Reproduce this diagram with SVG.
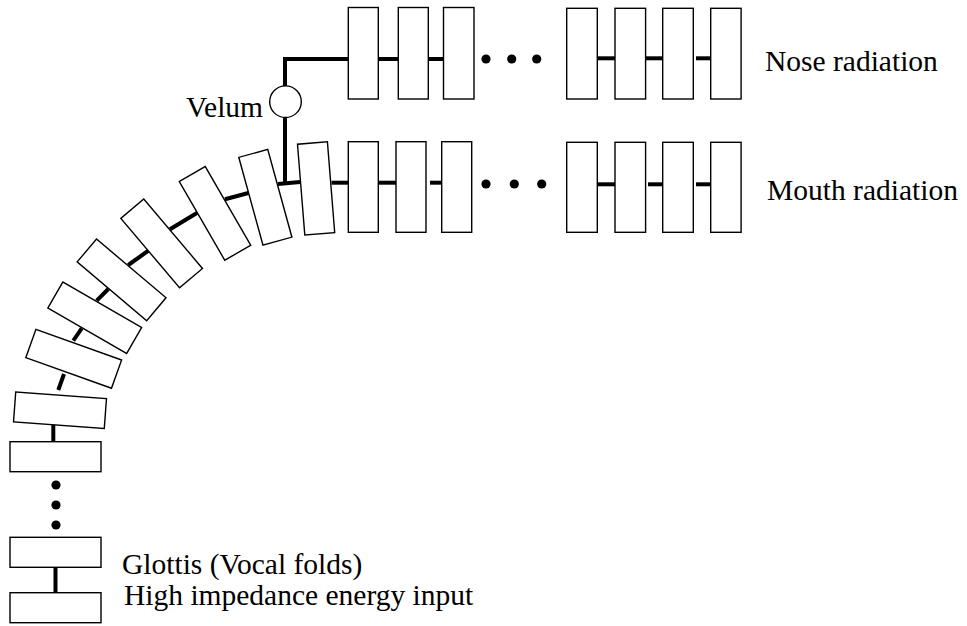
<svg xmlns="http://www.w3.org/2000/svg" width="967" height="626" viewBox="0 0 967 626">
  <style>
    .sec { fill: #fff; stroke: #000; stroke-width: 1.4; }
    .wire { stroke: #000; stroke-width: 4; fill: none; stroke-linecap: butt; }
    .dot { fill: #000; }
    .lbl { font-family: "Liberation Serif", "Times New Roman", serif; font-size: 29.5px; fill: #000; }
  </style>
  <defs>
    <!-- one tube section, centred on its origin -->
    <rect id="seg" x="-45.5" y="-15" width="91" height="30"/>
  </defs>
  <rect width="967" height="626" fill="#fff"/>

  <!-- connectors between tube sections -->
  <g id="connectors" class="wire">
    <!-- glottis stack -->
    <line x1="55.5" y1="567" x2="55.5" y2="593"/>
    <line x1="53.3" y1="422" x2="53.3" y2="442"/>
    <!-- bending pharynx chain -->
    <line x1="58.3" y1="390" x2="64" y2="374"/>
    <line x1="73.3" y1="340.7" x2="81.7" y2="328.3"/>
    <line x1="96.7" y1="300.7" x2="108.3" y2="289"/>
    <line x1="128.3" y1="265" x2="149.3" y2="250"/>
    <line x1="170" y1="229.3" x2="197.3" y2="212.7"/>
    <line x1="225" y1="199.3" x2="249.3" y2="192.7"/>
    <line x1="278" y1="184" x2="300" y2="182"/>
    <!-- velum branch to nasal tract -->
    <polyline points="285,184.3 285,117.5"/>
    <polyline points="285,86 285,59 348,59"/>
    <!-- nasal tract -->
    <line x1="378" y1="59" x2="398" y2="59"/>
    <line x1="428" y1="59" x2="444" y2="59"/>
    <line x1="597" y1="58.3" x2="615" y2="58.3"/>
    <line x1="645" y1="58.3" x2="663" y2="58.3"/>
    <line x1="696" y1="58.3" x2="713" y2="58.3"/>
    <!-- oral tract -->
    <line x1="331.5" y1="182.7" x2="348" y2="182.7"/>
    <line x1="378" y1="182.7" x2="398" y2="182.7"/>
    <line x1="430" y1="182.7" x2="443" y2="182.7"/>
    <line x1="597" y1="184.3" x2="615" y2="184.3"/>
    <line x1="648" y1="184.3" x2="665" y2="184.3"/>
    <line x1="696" y1="184.3" x2="713" y2="184.3"/>
  </g>

  <!-- ellipsis dots -->
  <g id="ellipses" class="dot">
    <circle cx="56" cy="485" r="4.6"/>
    <circle cx="56" cy="505" r="4.6"/>
    <circle cx="56" cy="525" r="4.6"/>
    <circle cx="486" cy="59" r="4.6"/>
    <circle cx="511.7" cy="59" r="4.6"/>
    <circle cx="536.7" cy="59" r="4.6"/>
    <circle cx="486" cy="184" r="4.6"/>
    <circle cx="514.3" cy="184" r="4.6"/>
    <circle cx="541.7" cy="184" r="4.6"/>
  </g>

  <!-- glottis end -->
  <g id="source">
    <rect class="sec" x="10" y="592.7" width="91" height="30"/>
    <text class="lbl" x="124" y="605">High impedance energy input</text>
  </g>
  <g id="glottis">
    <rect class="sec" x="10" y="537.3" width="91" height="30"/>
    <text class="lbl" x="122" y="574">Glottis (Vocal folds)</text>
  </g>
  <g id="pharynx-0">
    <rect class="sec" x="10" y="441.7" width="91" height="30"/>
  </g>

  <!-- curved section of the tract -->
  <g id="pharynx-1"><use href="#seg" class="sec" transform="translate(60,410.2) rotate(4.2)"/></g>
  <g id="pharynx-2"><use href="#seg" class="sec" transform="translate(73.7,358.8) rotate(19.7)"/></g>
  <g id="pharynx-3"><use href="#seg" class="sec" transform="translate(94.75,317.8) rotate(30)"/></g>
  <g id="pharynx-4"><use href="#seg" class="sec" transform="translate(121.6,279.85) rotate(40.2)"/></g>
  <g id="pharynx-5"><use href="#seg" class="sec" transform="translate(161.65,243.4) rotate(49.8)"/></g>
  <g id="pharynx-6"><use href="#seg" class="sec" transform="translate(215,213.35) rotate(60)"/></g>
  <g id="pharynx-7"><use href="#seg" class="sec" transform="translate(265.35,197.25) rotate(74.6)"/></g>
  <g id="pharynx-8"><use href="#seg" class="sec" transform="translate(316.1,188.4) rotate(85.4)"/></g>

  <!-- velum valve -->
  <g id="velum">
    <circle cx="285.5" cy="101.7" r="15.8" fill="#fff" stroke="#000" stroke-width="1.4"/>
    <text class="lbl" x="186" y="117">Velum</text>
  </g>

  <!-- nasal tract -->
  <g id="nose-1"><rect class="sec" x="348.3" y="7.5" width="30" height="91.5"/></g>
  <g id="nose-2"><rect class="sec" x="398.3" y="7.5" width="30" height="91.5"/></g>
  <g id="nose-3"><rect class="sec" x="443.5" y="7.5" width="30.5" height="91.5"/></g>
  <g id="nose-4"><rect class="sec" x="566.7" y="8.3" width="30.6" height="90.7"/></g>
  <g id="nose-5"><rect class="sec" x="615" y="8.3" width="30.6" height="90.7"/></g>
  <g id="nose-6"><rect class="sec" x="662.7" y="8.3" width="30.6" height="90.7"/></g>
  <g id="nose-7"><rect class="sec" x="710.7" y="8.3" width="30.4" height="90.7"/></g>
  <g id="nose-label"><text class="lbl" x="765" y="71">Nose radiation</text></g>

  <!-- oral tract -->
  <g id="mouth-1"><rect class="sec" x="348.3" y="141.7" width="30" height="90.6"/></g>
  <g id="mouth-2"><rect class="sec" x="396" y="141.7" width="30" height="90.6"/></g>
  <g id="mouth-3"><rect class="sec" x="441.7" y="141.7" width="30" height="90.6"/></g>
  <g id="mouth-4"><rect class="sec" x="566.7" y="142.3" width="30.6" height="90"/></g>
  <g id="mouth-5"><rect class="sec" x="615" y="142.3" width="30.6" height="90"/></g>
  <g id="mouth-6"><rect class="sec" x="662.7" y="142.3" width="30.6" height="90"/></g>
  <g id="mouth-7"><rect class="sec" x="710.7" y="142.3" width="30.4" height="90"/></g>
  <g id="mouth-label"><text class="lbl" x="767" y="200">Mouth radiation</text></g>
</svg>
